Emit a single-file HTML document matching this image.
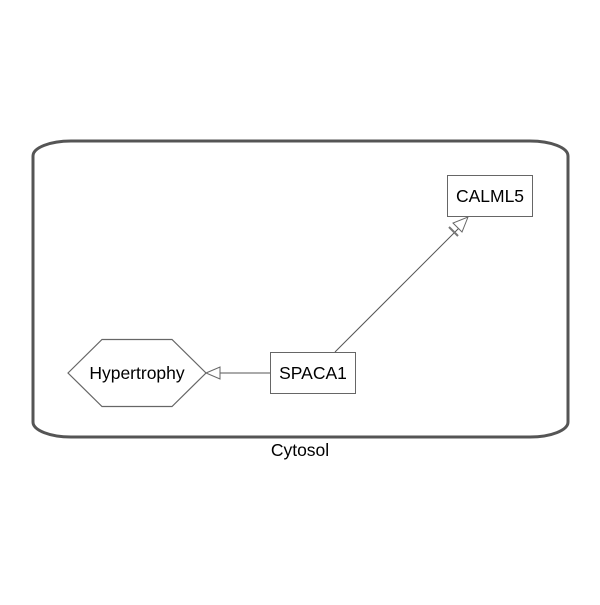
<!DOCTYPE html>
<html><head><meta charset="utf-8"><style>html,body{margin:0;padding:0;background:#fff}</style></head>
<body>
<svg width="600" height="600" viewBox="0 0 600 600" xmlns="http://www.w3.org/2000/svg" font-family="Liberation Sans, Arial, sans-serif">
<rect x="0" y="0" width="600" height="600" fill="#fff"/>
<rect x="33" y="141" width="535" height="296" rx="38" ry="15" fill="none" stroke="#555" stroke-width="3"/>
<text x="300" y="456" font-size="17.5" text-anchor="middle" fill="#000">Cytosol</text>
<rect x="447.5" y="175.5" width="85" height="41" fill="#fff" stroke="#666" stroke-width="1"/>
<text x="490" y="202" font-size="17.5" text-anchor="middle">CALML5</text>
<rect x="270.5" y="352.5" width="85" height="41" fill="#fff" stroke="#666" stroke-width="1"/>
<text x="313" y="379" font-size="17.5" text-anchor="middle">SPACA1</text>
<polygon points="68,373 102,339.5 172,339.5 206,373 172,406.5 102,406.5" fill="#fff" stroke="#666" stroke-width="1.2"/>
<text x="137" y="379" font-size="17.5" text-anchor="middle">Hypertrophy</text>
<line x1="335" y1="352" x2="460" y2="227" stroke="#555" stroke-width="1"/>
<polygon points="468,217 462,232 453,223" fill="#fff" stroke="#666" stroke-width="1"/>
<line x1="449" y1="227" x2="458" y2="236" stroke="#777" stroke-width="2"/>
<line x1="270" y1="373" x2="220" y2="373" stroke="#555" stroke-width="1"/>
<polygon points="206,373 220,367 220,379" fill="#fff" stroke="#666" stroke-width="1"/>
</svg>
</body></html>
